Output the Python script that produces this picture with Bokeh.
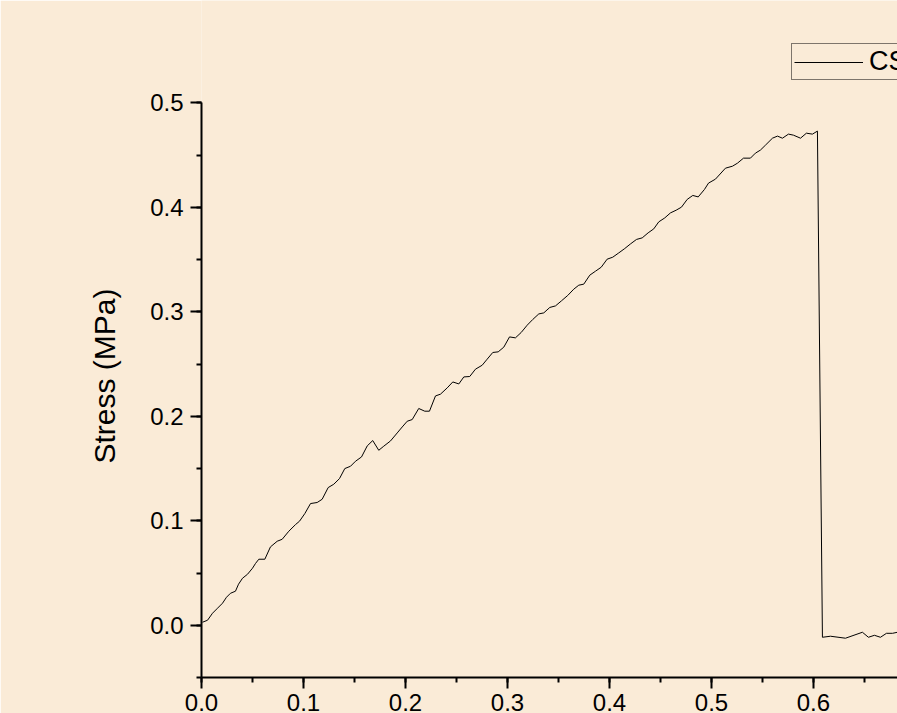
from bokeh.plotting import figure
from bokeh.models import (Range1d, Legend, LegendItem, SingleIntervalTicker,
                          PrintfTickFormatter, Title)
from bokeh.embed import file_html
from bokeh.resources import INLINE

# Strain (x) and stress in MPa (y)
strain = [0.001, 0.0059, 0.0108, 0.0157, 0.0206, 0.0245, 0.0284, 0.0333, 0.0363, 0.0402,
          0.0451, 0.0500, 0.0529, 0.0562, 0.0621, 0.0676, 0.0742, 0.0791, 0.0856, 0.0922,
          0.0961, 0.1013, 0.1069, 0.1134, 0.1183, 0.1242, 0.1297, 0.1353, 0.1405, 0.1461,
          0.1510, 0.1569, 0.1625, 0.1679, 0.1738, 0.1787, 0.1853, 0.1919, 0.1968, 0.2017,
          0.2066, 0.2130, 0.2189, 0.2235, 0.2294, 0.2343, 0.2409, 0.2464, 0.2523, 0.2572,
          0.2630, 0.2686, 0.2752, 0.2801, 0.2856, 0.2909, 0.2964, 0.3020, 0.3078, 0.3134,
          0.3193, 0.3248, 0.3307, 0.3356, 0.3415, 0.3471, 0.3529, 0.3591, 0.3650, 0.3699,
          0.3748, 0.3807, 0.3863, 0.3919, 0.3977, 0.4032, 0.4091, 0.4150, 0.4206, 0.4265,
          0.4321, 0.4379, 0.4434, 0.4483, 0.4542, 0.4598, 0.4654, 0.4706, 0.4762, 0.4817,
          0.4870, 0.4931, 0.4971, 0.5039, 0.5137, 0.5206, 0.5255, 0.5314, 0.5382, 0.5431,
          0.5480, 0.5529, 0.5598, 0.5647, 0.5696, 0.5755, 0.5804, 0.5873, 0.5931, 0.5990,
          0.6039, 0.6088, 0.6167, 0.6314, 0.6480, 0.6539, 0.6598, 0.6657, 0.6716, 0.6775,
          0.6824, 0.6900, 0.7000]
stress = [0.0029, 0.0048, 0.0115, 0.0163, 0.0211, 0.0268, 0.0306, 0.0326, 0.0393, 0.0450,
          0.0488, 0.0546, 0.0591, 0.0632, 0.0632, 0.0750, 0.0804, 0.0823, 0.0900, 0.0964,
          0.0996, 0.1069, 0.1165, 0.1175, 0.1206, 0.1318, 0.1350, 0.1404, 0.1500, 0.1522,
          0.1570, 0.1611, 0.1717, 0.1768, 0.1675, 0.1714, 0.1764, 0.1841, 0.1898, 0.1953,
          0.1969, 0.2075, 0.2049, 0.2049, 0.2195, 0.2212, 0.2272, 0.2329, 0.2310, 0.2377,
          0.2381, 0.2451, 0.2489, 0.2547, 0.2611, 0.2617, 0.2662, 0.2760, 0.2751, 0.2802,
          0.2872, 0.2927, 0.2980, 0.2990, 0.3042, 0.3057, 0.3105, 0.3157, 0.3217, 0.3255,
          0.3265, 0.3351, 0.3389, 0.3427, 0.3504, 0.3523, 0.3564, 0.3606, 0.3650, 0.3693,
          0.3708, 0.3756, 0.3794, 0.3861, 0.3899, 0.3947, 0.3973, 0.4002, 0.4076, 0.4114,
          0.4100, 0.4171, 0.4232, 0.4270, 0.4375, 0.4394, 0.4423, 0.4471, 0.4471, 0.4519,
          0.4548, 0.4595, 0.4662, 0.4682, 0.4662, 0.4701, 0.4691, 0.4662, 0.4710, 0.4701,
          0.4730, -0.0115, -0.0105, -0.0124, -0.0067, -0.0115, -0.0096, -0.0115, -0.0077, -0.0077,
          -0.0067, -0.0070, -0.0090]

series_label = "CS"
y_label = "Stress (MPa)"
x_start, x_end = 0.0, 0.6824
y_start, y_end = -0.05, 0.598      # plotting area reaches the top (room for the legend)
y_axis_top = 0.5                   # the drawn y axis stops at 0.5

BG = "#FAEBD7"
FONT = "Liberation Sans"

p = figure(width=897, height=713, output_backend="svg", toolbar_location=None,
           x_range=Range1d(x_start, x_end), y_range=Range1d(y_start, y_end),
           min_border_left=201, min_border_right=0, min_border_top=0, min_border_bottom=0)

p.background_fill_color = BG
p.border_fill_color = BG
p.outline_line_color = None
p.grid.visible = False

r = p.line(strain, stress, line_color="black", line_width=1)

for ax in (p.xaxis[0], p.yaxis[0]):
    ax.ticker = SingleIntervalTicker(interval=0.1, num_minor_ticks=2)
    ax.formatter = PrintfTickFormatter(format="%.1f")
    ax.axis_line_color = "black"
    ax.axis_line_width = 2
    ax.major_tick_line_color = "black"
    ax.major_tick_line_width = 2
    ax.minor_tick_line_color = "black"
    ax.minor_tick_line_width = 2
    ax.major_tick_in = 0
    ax.major_tick_out = 11
    ax.minor_tick_in = 0
    ax.minor_tick_out = 5
    ax.major_label_text_font = FONT
    ax.major_label_text_font_size = "24px"
    ax.major_label_text_color = "black"

p.yaxis[0].bounds = (y_start, y_axis_top)
p.xaxis[0].major_label_standoff = 5
p.yaxis[0].major_label_standoff = 7

# y axis title as a side title, so it can sit where the reference has it
ytitle = Title(text=y_label, align="left", offset=214, standoff=54,
               text_font=FONT, text_font_size="30px", text_font_style="normal",
               text_color="black")
p.add_layout(ytitle, "left")

legend = Legend(items=[LegendItem(label=series_label, renderers=[r])],
                location=(590, 597), orientation="vertical",
                border_line_color="black", border_line_width=1,
                background_fill_color=BG, background_fill_alpha=1.0,
                padding=2, margin=0, spacing=0,
                glyph_width=69, glyph_height=30, label_height=30,
                label_standoff=6,
                label_text_font=FONT, label_text_font_size="27px",
                label_text_color="black")
p.add_layout(legend, "center")

open("out.html", "w").write(file_html(p, INLINE))
